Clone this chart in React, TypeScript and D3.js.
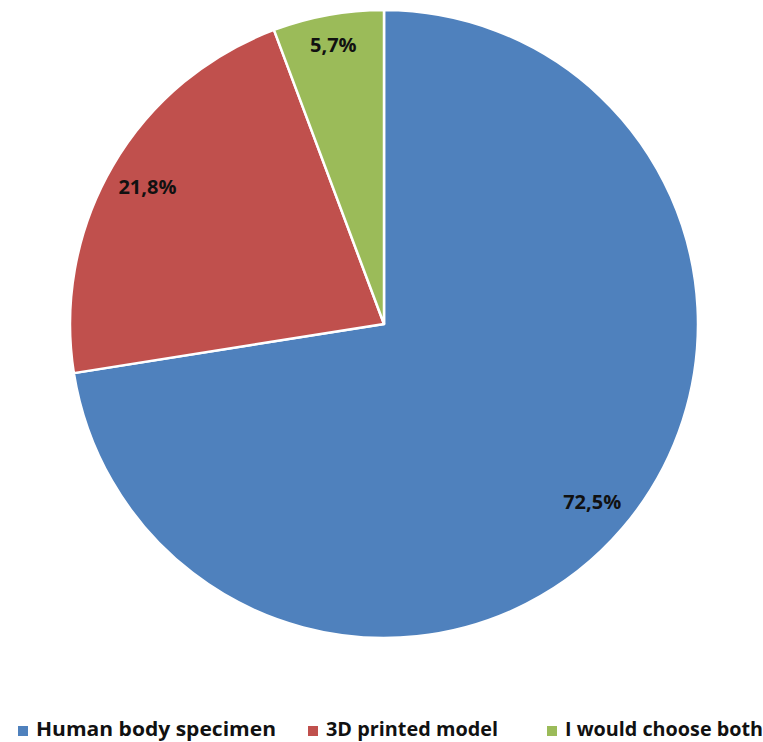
import React from "react";
import * as d3 from "d3";

const categories = ["Human body specimen", "3D printed model", "I would choose both"];
const shares = [72.5, 21.8, 5.7];
const colors = ["#4F81BD", "#C0504D", "#9BBB59"];
// how far out along the radius each value label sits
const labelRadius = [0.872, 0.872, 0.906];

const W = 763;
const H = 742;
const cx = 384;
const cy = 324;
const R = 314;

// legend layout: marker x and text run width for each entry
const legendX = [18, 308, 547];
const legendTextWidth = [240, 172, 198];

export default function App() {
  const pie = d3
    .pie<number>()
    .sort(null)
    .value((d) => d)
    .startAngle(0)
    .endAngle(2 * Math.PI);
  const arcs = pie(shares);
  const arcGen = d3.arc<d3.PieArcDatum<number>>().innerRadius(0).outerRadius(R);

  return (
    <svg
      width={W}
      height={H}
      style={{ position: "absolute", left: 0, top: 0, background: "#fff" }}
      fontFamily="'Open Sans', Lato, sans-serif"
    >
      <g transform={`translate(${cx},${cy})`}>
        {arcs.map((a, i) => (
          <path key={i} d={arcGen(a) ?? ""} fill={colors[i]} stroke="#fff" strokeWidth={2.5} strokeLinejoin="round" />
        ))}
        {arcs.map((a, i) => {
          const mid = (a.startAngle + a.endAngle) / 2;
          const r = R * labelRadius[i];
          const x = Math.sin(mid) * r;
          const y = -Math.cos(mid) * r;
          return (
            <text
              key={i}
              x={x}
              y={y}
              textAnchor="middle"
              dominantBaseline="central"
              fontSize={20}
              fontWeight={700}
              fill="#111"
            >
              {shares[i].toFixed(1).replace(".", ",")}%
            </text>
          );
        })}
      </g>
      <g>
        {categories.map((c, i) => (
          <g key={c} transform={`translate(${legendX[i]},0)`}>
            <rect x={0} y={726} width={10} height={10} fill={colors[i]} />
            <text
              x={18}
              y={736}
              fontSize={19}
              fontWeight={700}
              fill="#111"
              textLength={legendTextWidth[i]}
              lengthAdjust="spacingAndGlyphs"
            >
              {c}
            </text>
          </g>
        ))}
      </g>
    </svg>
  );
}
